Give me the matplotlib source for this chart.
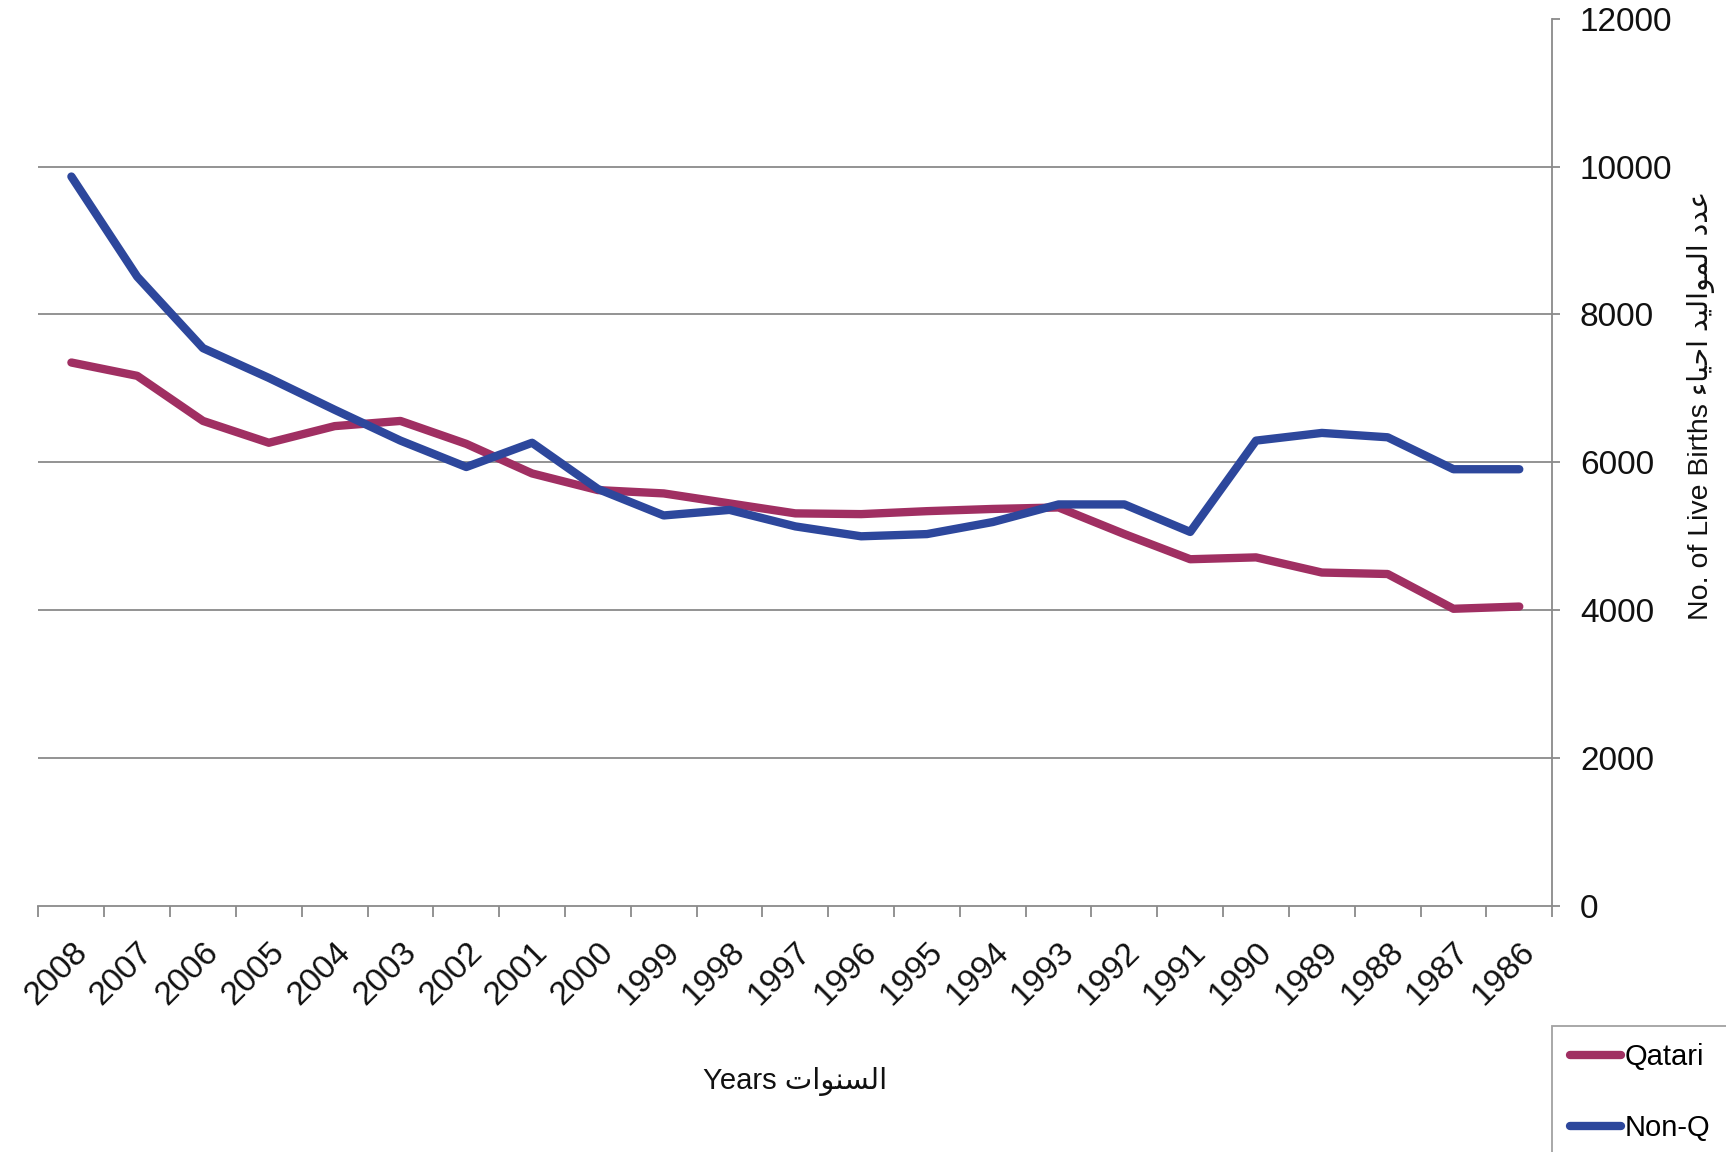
import matplotlib
matplotlib.use("Agg")
import matplotlib.pyplot as plt
from matplotlib.ticker import FixedLocator, NullFormatter

plt.rcParams['font.family'] = ['Liberation Sans', 'DejaVu Sans']

years = [str(y) for y in range(2008, 1985, -1)]
qatari = [7350, 7170, 6560, 6265, 6490, 6560, 6250, 5850, 5625, 5580, 5445, 5310,
          5300, 5340, 5370, 5390, 5030, 4690, 4715, 4510, 4490, 4020, 4050]
non_q = [9865, 8511, 7544, 7142, 6711, 6294, 5937, 6265, 5640, 5282, 5357, 5134,
         5000, 5030, 5193, 5431, 5431, 5059, 6294, 6398, 6339, 5907, 5907]
yticks = [0, 2000, 4000, 6000, 8000, 10000, 12000]

# Arabic text in visual (left-to-right) order using presentation forms
ar_years = "\uFE95\uFE8D\uFEEE\uFEE8\uFEB4\uFEDF\uFE8D"          # السنوات
ar_adad = "\uFEA9\uFEAA\uFECB"                                    # عدد
ar_mawalid = "\uFEAA\uFEF4\uFEDF\uFE8D\uFEEE\uFEE4\uFEDF\uFE8D"   # المواليد
ar_ahyaa = "\uFE80\uFE8E\uFEF4\uFEA3\uFE8D"                       # احياء

xlabel = "Years " + ar_years
ylabel = "No. of Live Births " + ar_ahyaa + " " + ar_mawalid + " " + ar_adad

fig = plt.figure(figsize=(17.26, 11.52), dpi=100)
ax = fig.add_axes([0.0223, 0.2135, 0.8770, 0.7703])

x = list(range(len(years)))
grid_c = '#8a8a8a'
for v in yticks[1:-1]:
    ax.axhline(v, color=grid_c, lw=1.3, zorder=1)

ax.plot(x, qatari, color='#A02F62', lw=6, solid_capstyle='round', solid_joinstyle='round',
        label='Qatari', zorder=3)
ax.plot(x, non_q, color='#2D479C', lw=6, solid_capstyle='round', solid_joinstyle='round',
        label='Non-Q', zorder=4)

ax.set_xlim(-0.5, len(years) - 0.5)
ax.set_ylim(0, 12000)

ax.spines['top'].set_visible(False)
ax.spines['left'].set_visible(False)
ax.spines['right'].set_color(grid_c)
ax.spines['bottom'].set_color(grid_c)
ax.spines['right'].set_linewidth(1.3)
ax.spines['bottom'].set_linewidth(1.3)

ax.yaxis.tick_right()
ax.set_yticks(yticks)
ax.tick_params(axis='y', direction='out', length=6, width=1.3, color=grid_c,
               labelsize=24, pad=14, labelcolor='#111111')

ax.set_xticks(x)
ax.set_xticklabels(years, rotation=45, ha='right', rotation_mode='anchor',
                   fontsize=24, color='#111111')
ax.tick_params(axis='x', which='major', length=0, pad=22)
ax.xaxis.set_minor_locator(FixedLocator([i - 0.5 for i in range(len(years) + 1)]))
ax.xaxis.set_minor_formatter(NullFormatter())
ax.tick_params(axis='x', which='minor', direction='out', length=8, width=1.3, color=grid_c)

ax.set_xlabel(xlabel, fontsize=21, labelpad=40, color='#111111')
fig.text(1701 / 1726, 1 - 405 / 1152, ylabel, rotation=90, ha='center', va='center',
         fontsize=20.5, color='#111111')

leg = fig.legend(loc='upper left', bbox_to_anchor=(1552 / 1726, 1 - 1026 / 1152),
                 fontsize=21, frameon=True, fancybox=False, edgecolor=grid_c,
                 handlelength=1.75, handletextpad=0.15, labelspacing=1.45,
                 borderpad=0.6, borderaxespad=0)
leg.get_frame().set_linewidth(1.3)

fig.savefig('out.png', dpi=100)
